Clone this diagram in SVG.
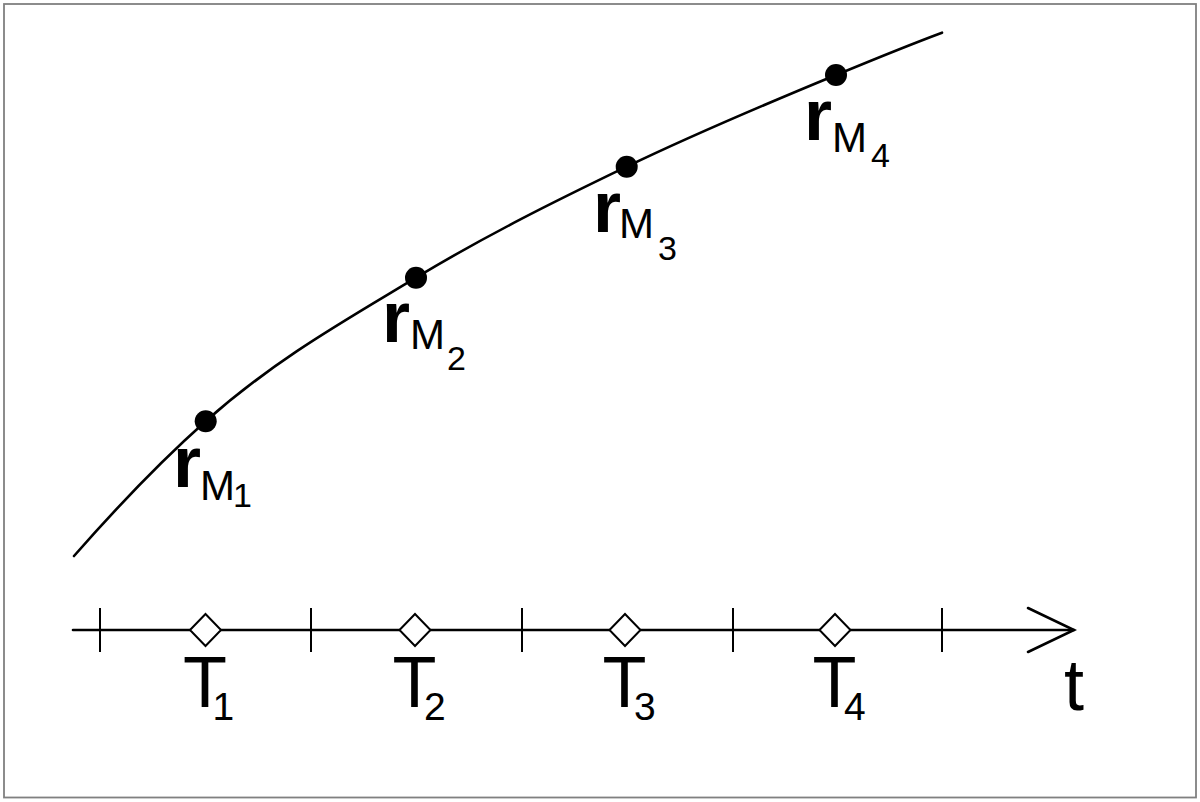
<svg xmlns="http://www.w3.org/2000/svg" width="1200" height="802" viewBox="0 0 1200 802">
<style>
.ln{fill:none;stroke:#000;stroke-width:2.6;stroke-linecap:round}
.tk{stroke:#000;stroke-width:2}
.dm{fill:#fff;stroke:#000;stroke-width:2}
.dot{fill:#000}
.rb{font-family:"Liberation Sans",Arial,sans-serif;font-weight:bold;font-size:72px;fill:#000}
.m{font-family:"Liberation Sans",Arial,sans-serif;font-size:42px;fill:#000}
.s{font-family:"Liberation Sans",Arial,sans-serif;font-size:34px;fill:#000}
.T{font-family:"Liberation Sans",Arial,sans-serif;font-size:72px;fill:#000}
.ts{font-family:"Liberation Sans",Arial,sans-serif;font-size:39px;fill:#000}
</style>
<rect x="0" y="0" width="1200" height="802" fill="#fff"/>
<rect x="4" y="4" width="1192" height="793.5" fill="none" stroke="#808080" stroke-width="1.8"/>
<g id="connectors">
<path id="curve" class="ln" d="M74,556 C117.9,506 161.8,460.4 205.7,421.3 C275.8,358.9 345.9,320.1 416,277.7 C486.2,235.2 556.5,200.5 626.7,166.7 C696.5,133.1 766.2,103.8 836,75 C871.3,60.4 906.7,45.8 942,32.7"/>
<g id="axis">
<line class="ln" x1="73" y1="630" x2="1074" y2="630"/>
<polyline class="ln" points="1028,608 1074,630 1028,652"/>
<line class="tk" x1="100" y1="608" x2="100" y2="652"/>
<line class="tk" x1="311" y1="608" x2="311" y2="652"/>
<line class="tk" x1="522" y1="608" x2="522" y2="652"/>
<line class="tk" x1="733" y1="608" x2="733" y2="652"/>
<line class="tk" x1="942" y1="608" x2="942" y2="652"/>
</g>
</g>
<g id="M1"><circle class="dot" cx="205.7" cy="421.3" r="11"/>
<text class="rb" x="173" y="487">r</text><text class="m" x="200" y="500">M</text><text class="s" x="233" y="507">1</text></g>
<g id="M2"><circle class="dot" cx="416" cy="277.7" r="11"/>
<text class="rb" x="382" y="342">r</text><text class="m" x="410" y="349">M</text><text class="s" x="447" y="370">2</text></g>
<g id="M3"><circle class="dot" cx="626.7" cy="166.7" r="11"/>
<text class="rb" x="593" y="232">r</text><text class="m" x="619" y="238">M</text><text class="s" x="658" y="260">3</text></g>
<g id="M4"><circle class="dot" cx="836" cy="75" r="11"/>
<text class="rb" x="804" y="140">r</text><text class="m" x="832" y="152">M</text><text class="s" x="871" y="167">4</text></g>
<g id="T1"><polygon class="dm" points="190,630 205.5,614 221,630 205.5,646"/>
<text class="T" x="183" y="707">T</text><text class="ts" x="212.5" y="720">1</text></g>
<g id="T2"><polygon class="dm" points="399.5,630 415,614 430.5,630 415,646"/>
<text class="T" x="392.5" y="707">T</text><text class="ts" x="424" y="720">2</text></g>
<g id="T3"><polygon class="dm" points="609.5,630 625,614 640.5,630 625,646"/>
<text class="T" x="602.5" y="707">T</text><text class="ts" x="634" y="720">3</text></g>
<g id="T4"><polygon class="dm" points="819.5,630 835,614 850.5,630 835,646"/>
<text class="T" x="812.5" y="707">T</text><text class="ts" x="844" y="720">4</text></g>
<g id="tlabel"><text class="T" x="1064" y="710">t</text></g>
</svg>
